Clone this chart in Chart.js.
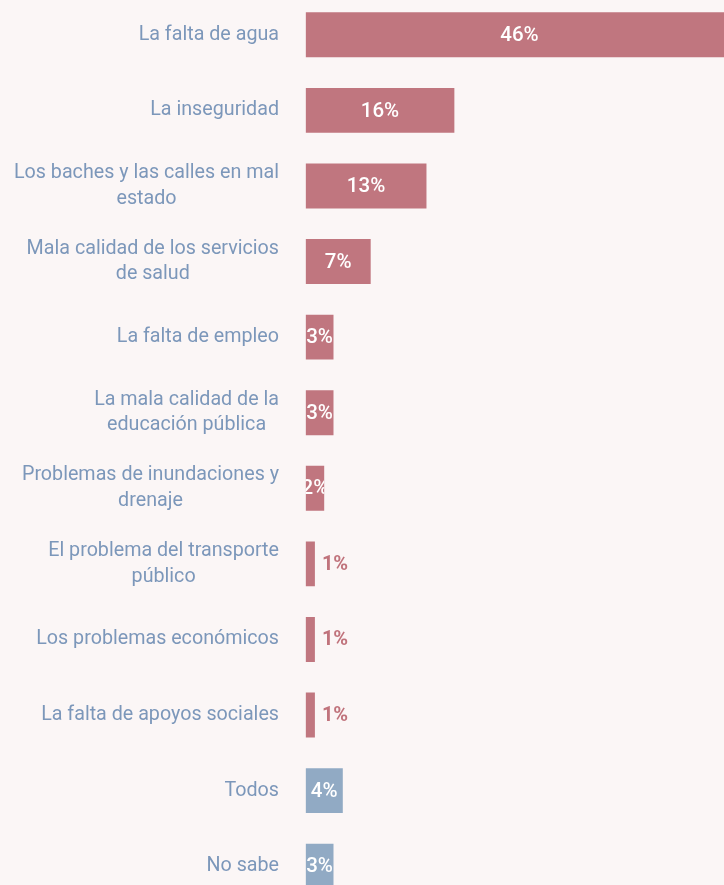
<!DOCTYPE html>
<html lang="es">
<head>
<meta charset="utf-8">
<title>Principales problemas</title>
<script src="https://cdn.jsdelivr.net/npm/chart.js@4.4.1/dist/chart.umd.min.js"></script>
<style>
    html, body {
        margin: 0;
        padding: 0;
        width: 724px;
        height: 885px;
        overflow: hidden;
        background: #fbf6f6;
    }
    #contenedor {
        position: absolute;
        left: 0;
        top: -3px;
        width: 724px;
        height: 907px;
    }
</style>
</head>
<body>
<div id="contenedor">
    <canvas id="graficoProblemas"></canvas>
</div>
<script>
// Datos
const categorias = [
    ['La falta de agua'],
    ['La inseguridad'],
    ['Los baches y las calles en mal', 'estado'],
    ['Mala calidad de los servicios', 'de salud'],
    ['La falta de empleo'],
    ['La mala calidad de la', 'educación pública'],
    ['Problemas de inundaciones y', 'drenaje'],
    ['El problema del transporte', 'público'],
    ['Los problemas económicos'],
    ['La falta de apoyos sociales'],
    ['Todos'],
    ['No sabe']
];
const porcentajes = [46, 16, 13, 7, 3, 3, 2, 1, 1, 1, 4, 3];
const respuestasNeutras = ['Todos', 'No sabe'];

// Colores
const COLORES = {
    rosa: '#c0767f',
    azul: '#91aac4',
    texto: '#7c97ba',
    etiquetaFuera: '#c0737c'
};

const coloresBarras = categorias.map(c =>
    respuestasNeutras.includes(c[0]) ? COLORES.azul : COLORES.rosa
);

// Etiquetas del eje y (bloque alineado a la derecha, lineas centradas)
const etiquetasEje = {
    id: 'etiquetasEje',
    afterDraw(chart) {
        const ctx = chart.ctx;
        const y = chart.scales.y;
        const derecha = 279;
        const alto = 25.5;
        ctx.save();
        ctx.font = '19.7px Roboto';
        ctx.fillStyle = COLORES.texto;
        ctx.textAlign = 'center';
        ctx.textBaseline = 'middle';
        categorias.forEach((lineas, i) => {
            const anchoMax = Math.max(...lineas.map(l => ctx.measureText(l).width));
            const cx = derecha - anchoMax / 2;
            const cy = y.getPixelForValue(i);
            const inicio = cy - (lineas.length - 1) * alto / 2;
            lineas.forEach((l, j) => ctx.fillText(l, cx, inicio + j * alto));
        });
        ctx.restore();
    }
};

// Etiquetas de valores (blancas dentro de la barra, recortadas a la barra)
const etiquetasValor = {
    id: 'etiquetasValor',
    afterDatasetsDraw(chart) {
        const ctx = chart.ctx;
        const x = chart.scales.x;
        const barras = chart.getDatasetMeta(0).data;
        barras.forEach((barra, i) => {
            const v = porcentajes[i];
            const x0 = x.getPixelForValue(0);
            const x1 = x.getPixelForValue(v);
            const texto = v + '%';
            ctx.save();
            ctx.textBaseline = 'middle';
            if (v >= 2) {
                ctx.beginPath();
                ctx.rect(x0, barra.y - barra.height / 2, x1 - x0, barra.height);
                ctx.clip();
                ctx.font = '500 20.5px Roboto';
                ctx.fillStyle = '#ffffff';
                ctx.textAlign = 'center';
                ctx.fillText(texto, (x0 + x1) / 2, barra.y + 1);
            } else {
                ctx.font = 'bold 20px Roboto';
                ctx.fillStyle = COLORES.etiquetaFuera;
                ctx.textAlign = 'left';
                ctx.fillText(texto, x1 + 7, barra.y + 1);
            }
            ctx.restore();
        });
    }
};

const ctx = document.getElementById('graficoProblemas').getContext('2d');

new Chart(ctx, {
    type: 'bar',
    data: {
        labels: categorias,
        datasets: [{
            data: porcentajes,
            backgroundColor: coloresBarras,
            borderWidth: 0,
            barPercentage: 0.595,
            categoryPercentage: 1
        }]
    },
    options: {
        indexAxis: 'y',
        responsive: true,
        maintainAspectRatio: false,
        animation: false,
        layout: {
            padding: { left: 305.6, right: 0, top: 0, bottom: 0 }
        },
        plugins: {
            legend: { display: false },
            tooltip: { enabled: false }
        },
        scales: {
            x: {
                display: false,
                min: 0,
                max: 45
            },
            y: {
                display: false
            }
        }
    },
    plugins: [etiquetasEje, etiquetasValor]
});
</script>
</body>
</html>
